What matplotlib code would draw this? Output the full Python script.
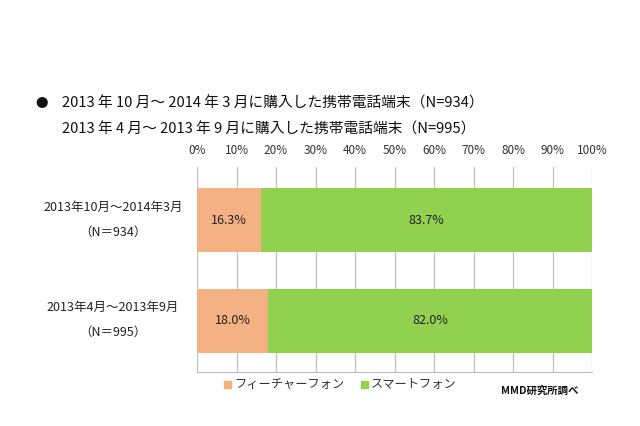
import matplotlib
matplotlib.use("Agg")
from matplotlib import pyplot as plt
import numpy as np

plt.rcParams['font.family'] = ['Noto Sans CJK JP', 'DejaVu Sans']

# データ
categories = ["2013年10月～2014年3月\n（N＝934）", "2013年4月～2013年9月\n（N＝995）"]
feature = [16.3, 18.0]
smart = [83.7, 82.0]
series_names = ["フィーチャーフォン", "スマートフォン"]
ticks = [0, 10, 20, 30, 40, 50, 60, 70, 80, 90, 100]
title_lines = ["2013 年 10 月～ 2014 年 3 月に購入した携帯電話端末（N=934）",
               "2013 年 4 月～ 2013 年 9 月に購入した携帯電話端末（N=995）"]

c_feat = "#F4B183"
c_smart = "#92D050"

fig = plt.figure(figsize=(6.4, 4.26), dpi=100)
W, H = 640, 426
ax = fig.add_axes([197 / W, 1 - 372 / H, (592 - 197) / W, (372 - 167) / H])

y = np.arange(len(categories))
ax.barh(y, feature, height=0.64, color=c_feat, zorder=2)
ax.barh(y, smart, left=feature, height=0.64, color=c_smart, zorder=2)

for i in range(len(categories)):
    ax.text(feature[i] / 2, y[i], "%.1f%%" % feature[i], ha="center", va="center", fontsize=9, color="#222222", zorder=3)
    ax.text(feature[i] + smart[i] / 2, y[i], "%.1f%%" % smart[i], ha="center", va="center", fontsize=9, color="#222222", zorder=3)

ax.set_xlim(0, 100)
ax.set_ylim(1.51, -0.53)
ax.set_xticks(ticks)
ax.set_xticklabels(["%d%%" % t for t in ticks], fontsize=8.5, color="#333333")
ax.xaxis.tick_top()
ax.tick_params(axis="x", length=0, pad=7)
ax.set_yticks([])
ax.grid(axis="x", color="#BFBFBF", linewidth=0.9, zorder=0)
for s in ["top", "right", "left"]:
    ax.spines[s].set_visible(False)
ax.spines["bottom"].set_color("#BFBFBF")

# 左側のラベル
for i, cat in enumerate(categories):
    yy = 1 - (221 + 100.5 * i) / H
    lines = cat.split("\n")
    fig.text(113 / W, yy + 14 / H, lines[0], ha="center", va="center", fontsize=9, color="#222222")
    fig.text(113 / W, yy - 11 / H, lines[1], ha="center", va="center", fontsize=9, color="#222222")

# タイトル
fig.text(42 / W, 1 - 103 / H, "●", ha="center", va="center", fontsize=9, color="#111111")
fig.text(62 / W, 1 - 103 / H, title_lines[0], ha="left", va="center", fontsize=10.6, color="#111111")
fig.text(62 / W, 1 - 129 / H, title_lines[1], ha="left", va="center", fontsize=10.6, color="#111111")

# 凡例
fig.patches.append(plt.Rectangle((224 / W, 1 - 388 / H), 7 / W, 7 / H, transform=fig.transFigure, color=c_feat))
fig.text(234 / W, 1 - 384 / H, series_names[0], ha="left", va="center", fontsize=8.8, color="#333333")
fig.patches.append(plt.Rectangle((361 / W, 1 - 388 / H), 7 / W, 7 / H, transform=fig.transFigure, color=c_smart))
fig.text(371 / W, 1 - 384 / H, series_names[1], ha="left", va="center", fontsize=8.8, color="#333333")

fig.text(578 / W, 1 - 391 / H, "MMD研究所調べ", ha="right", va="center", fontsize=7.5, fontweight="bold", color="#111111")

plt.savefig("out.png", dpi=100)
